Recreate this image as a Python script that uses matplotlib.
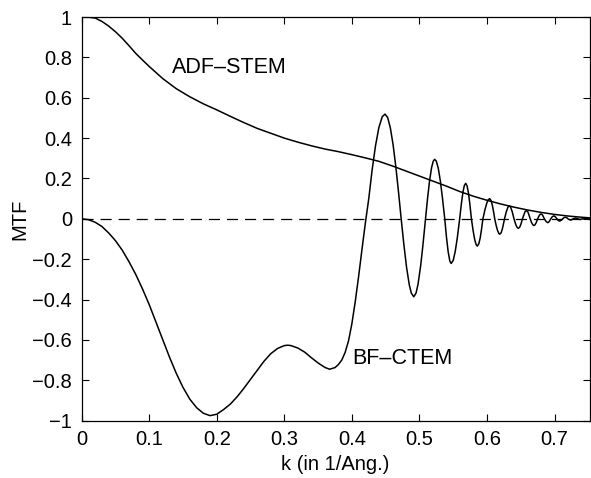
import matplotlib
matplotlib.use("Agg")
import matplotlib.pyplot as plt

plt.rcParams["font.family"] = ["Liberation Sans", "DejaVu Sans"]
plt.rcParams["font.size"] = 14.5
plt.rcParams["lines.scale_dashes"] = False

# ADF-STEM transfer function
adf_k = [0.00, 0.01, 0.02, 0.03, 0.04, 0.05, 0.06, 0.07, 0.08, 0.09,
         0.10, 0.12, 0.14, 0.16, 0.18,
         0.20, 0.22, 0.24, 0.26, 0.28, 0.30, 0.32, 0.34, 0.36, 0.38,
         0.40, 0.42, 0.44, 0.46, 0.48, 0.50, 0.52, 0.54, 0.56, 0.58,
         0.60, 0.62, 0.64, 0.66, 0.68, 0.70, 0.72, 0.74, 0.752]
adf_mtf = [1.000, 0.999, 0.995, 0.978, 0.955, 0.927, 0.895, 0.858, 0.820, 0.787,
           0.755, 0.695, 0.645, 0.605, 0.570,
           0.540, 0.508, 0.477, 0.448, 0.424, 0.400, 0.380, 0.362, 0.346, 0.333,
           0.318, 0.302, 0.285, 0.262, 0.237, 0.212, 0.187, 0.162, 0.135, 0.112,
           0.092, 0.074, 0.058, 0.044, 0.032, 0.022, 0.014, 0.008, 0.005]

# BF-CTEM transfer function
bf_k = [0.00, 0.01, 0.02, 0.03, 0.04, 0.05, 0.06, 0.07, 0.08, 0.09,
        0.10, 0.11, 0.12, 0.13, 0.14, 0.15,
        0.16, 0.17, 0.18, 0.19, 0.20, 0.21, 0.22, 0.23, 0.24, 0.25,
        0.26, 0.27, 0.28, 0.29, 0.30, 0.305, 0.31, 0.32, 0.33, 0.34,
        0.35, 0.36, 0.367, 0.375, 0.38, 0.385, 0.39, 0.395, 0.40, 0.405,
        0.41, 0.415, 0.42, 0.425, 0.43, 0.435, 0.44, 0.445, 0.449, 0.453,
        0.457, 0.461, 0.465, 0.469, 0.473, 0.477, 0.481, 0.485, 0.488, 0.4916,
        0.495, 0.498, 0.502, 0.505, 0.509, 0.512, 0.515, 0.518, 0.5205, 0.5226,
        0.525, 0.528, 0.531, 0.534, 0.5375, 0.540, 0.5425, 0.545, 0.547, 0.550,
        0.553, 0.556, 0.5596, 0.562, 0.5645, 0.5665, 0.5685, 0.5705, 0.5725, 0.5745,
        0.577, 0.5795, 0.582, 0.584, 0.5858, 0.588, 0.590, 0.592, 0.594, 0.597,
        0.600, 0.602, 0.604, 0.606, 0.608, 0.610, 0.6115, 0.6135, 0.6155, 0.6175,
        0.619, 0.621, 0.623, 0.626, 0.6285, 0.631, 0.633, 0.635, 0.6375, 0.640,
        0.6425, 0.6445, 0.6465, 0.6485, 0.6505, 0.6525, 0.655, 0.6565, 0.6585, 0.6605,
        0.662, 0.664, 0.666, 0.668, 0.6695, 0.671, 0.673, 0.675, 0.677, 0.6785,
        0.680, 0.6815, 0.683, 0.685, 0.6875, 0.690, 0.692, 0.6945, 0.6965, 0.699,
        0.701, 0.7035, 0.7055, 0.7075, 0.7095, 0.712, 0.714, 0.716, 0.718, 0.720,
        0.722, 0.724, 0.7255, 0.7275, 0.731, 0.7345, 0.738, 0.7415, 0.745, 0.7485,
        0.752]
bf_mtf = [0.000, -0.004, -0.017, -0.038, -0.070, -0.108, -0.155, -0.212, -0.275, -0.347,
          -0.425, -0.512, -0.600, -0.685, -0.765, -0.835,
          -0.893, -0.935, -0.963, -0.975, -0.968, -0.945, -0.918, -0.882, -0.840, -0.795,
          -0.750, -0.705, -0.668, -0.642, -0.628, -0.626, -0.628, -0.640, -0.660, -0.688,
          -0.714, -0.736, -0.745, -0.737, -0.722, -0.700, -0.662, -0.605, -0.520, -0.410,
          -0.285, -0.150, -0.020, 0.100, 0.243, 0.362, 0.453, 0.506, 0.519, 0.502,
          0.450, 0.368, 0.260, 0.135, 0.000, -0.128, -0.241, -0.327, -0.368, -0.386,
          -0.368, -0.323, -0.228, -0.136, 0.000, 0.100, 0.188, 0.254, 0.286, 0.295,
          0.286, 0.249, 0.187, 0.106, 0.000, -0.089, -0.162, -0.209, -0.221, -0.206,
          -0.162, -0.096, 0.000, 0.072, 0.134, 0.165, 0.176, 0.164, 0.130, 0.078,
          0.000, -0.059, -0.105, -0.128, -0.135, -0.123, -0.094, -0.050, 0.000, 0.045,
          0.081, 0.095, 0.100, 0.091, 0.067, 0.031, 0.000, -0.031, -0.056, -0.072,
          -0.076, -0.069, -0.047, 0.000, 0.034, 0.058, 0.064, 0.058, 0.034, 0.000,
          -0.027, -0.042, -0.047, -0.041, -0.024, 0.000, 0.024, 0.037, 0.040, 0.035,
          0.021, 0.000, -0.018, -0.030, -0.033, -0.030, -0.018, 0.000, 0.014, 0.022,
          0.024, 0.022, 0.014, 0.000, -0.013, -0.019, -0.014, 0.000, 0.010, 0.015,
          0.011, 0.000, -0.008, -0.011, -0.008, 0.000, 0.006, 0.008, 0.006, 0.000,
          -0.004, -0.006, -0.004, 0.000, 0.004, 0.000, -0.003, 0.000, 0.002, 0.000,
          -0.001]

x_ticks = [0, 0.1, 0.2, 0.3, 0.4, 0.5, 0.6, 0.7]
x_tick_labels = ["0", "0.1", "0.2", "0.3", "0.4", "0.5", "0.6", "0.7"]
y_ticks = [-1, -0.8, -0.6, -0.4, -0.2, 0, 0.2, 0.4, 0.6, 0.8, 1]
y_tick_labels = ["\u22121", "\u22120.8", "\u22120.6", "\u22120.4", "\u22120.2",
                 "0", "0.2", "0.4", "0.6", "0.8", "1"]

fig = plt.figure(figsize=(5.91, 4.78), dpi=100)
ax = fig.add_axes([0.1382, 0.1199, 0.8595, 0.8445])

ax.plot(adf_k, adf_mtf, color="k", linewidth=1.1)
ax.plot(bf_k, bf_mtf, color="k", linewidth=1.1)
ax.axhline(0, color="k", linewidth=0.9, dashes=(8, 5))

ax.text(0.1336, 0.752, "ADF\u2013STEM", ha="left", va="center", fontsize=15.5)
ax.text(0.4003, -0.691, "BF\u2013CTEM", ha="left", va="center", fontsize=15.5)

ax.set_xlim(0, 0.752)
ax.set_ylim(-1, 1)
ax.set_xticks(x_ticks, x_tick_labels)
ax.set_yticks(y_ticks, y_tick_labels)
ax.tick_params(direction="in", length=5, width=0.8, top=True, right=True, pad=7)
for s in ax.spines.values():
    s.set_linewidth(0.9)

ax.set_xlabel("k (in 1/Ang.)", labelpad=4)
ax.set_ylabel("MTF", labelpad=2)

fig.savefig("out.png", dpi=100)
